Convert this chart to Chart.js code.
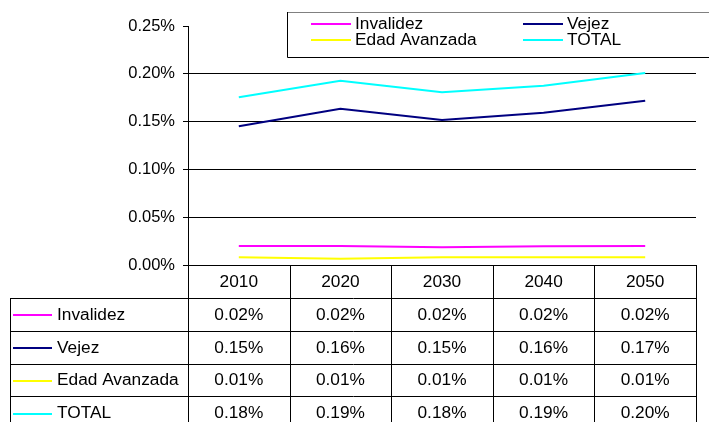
<!DOCTYPE html>
<html>
<head>
<meta charset="utf-8">
<script src="https://cdn.jsdelivr.net/npm/chart.js@4/dist/chart.umd.min.js"></script>
<style>
html,body{margin:0;padding:0;background:#fff;}
#wrap{width:709px;height:422px;position:relative;}
</style>
</head>
<body>
<div id="wrap"><canvas id="c" width="709" height="422"></canvas></div>
<script>
const categories = ['2010', '2020', '2030', '2040', '2050'];
const invalidez = [0.000200, 0.000198, 0.000186, 0.000195, 0.000200];
const vejez = [0.001452, 0.001634, 0.001516, 0.001592, 0.001718];
const edadAvanzada = [0.000080, 0.000066, 0.000080, 0.000080, 0.000080];
const total = [0.001754, 0.001926, 0.001807, 0.001876, 0.002009];
const seriesNames = ['Invalidez', 'Vejez', 'Edad Avanzada', 'TOTAL'];
const seriesColors = ['#FF00FF', '#000080', '#FFFF00', '#00FFFF'];
const seriesData = [invalidez, vejez, edadAvanzada, total];

const FONT = '"Liberation Sans", Arial, sans-serif';
const fmtPct = v => (v * 100).toFixed(2) + '%';
const crisp = v => Math.round(v) + 0.5;
const SX = 1.08;

function drawText(ctx, text, x, y, align) {
  ctx.save();
  ctx.translate(x, y);
  ctx.scale(SX, 1);
  ctx.textAlign = align;
  ctx.fillText(text, 0, 0);
  ctx.restore();
}

const tablePlugin = {
  id: 'dataTable',
  afterDraw(chart) {
    const ctx = chart.ctx;
    const area = chart.chartArea;
    const xs = chart.scales.x;
    const n = categories.length;
    const colW = (area.right - area.left) / n;
    const top = area.bottom;
    const headerH = 33;
    const rowH = 32.8;
    const labelLeft = 10;
    ctx.save();
    ctx.strokeStyle = '#000';
    ctx.lineWidth = 1;
    const bottomY = top + headerH + rowH * seriesNames.length + 5;
    for (let i = 0; i <= n; i++) {
      const x = crisp(area.left + colW * i);
      ctx.beginPath();
      ctx.moveTo(x, top);
      ctx.lineTo(x, bottomY);
      ctx.stroke();
    }
    ctx.beginPath();
    ctx.moveTo(crisp(labelLeft), top + headerH);
    ctx.lineTo(crisp(labelLeft), bottomY);
    ctx.stroke();
    for (let r = 0; r <= seriesNames.length; r++) {
      const y = crisp(top + headerH + rowH * r);
      ctx.beginPath();
      ctx.moveTo(labelLeft, y);
      ctx.lineTo(area.right + 1, y);
      ctx.stroke();
    }
    ctx.fillStyle = '#000';
    ctx.font = '16px ' + FONT;
    ctx.textBaseline = 'middle';
    categories.forEach((c, i) => {
      drawText(ctx, c, xs.getPixelForValue(i), top + headerH / 2 + 1, 'center');
    });
    seriesNames.forEach((name, r) => {
      const cy = top + headerH + rowH * r + rowH / 2 + 1;
      ctx.strokeStyle = seriesColors[r];
      ctx.lineWidth = 2;
      ctx.beginPath();
      ctx.moveTo(13, Math.round(cy));
      ctx.lineTo(52, Math.round(cy));
      ctx.stroke();
      ctx.fillStyle = '#000';
      drawText(ctx, name, 57, cy, 'left');
      seriesData[r].forEach((v, i) => {
        drawText(ctx, fmtPct(v), xs.getPixelForValue(i), cy, 'center');
      });
    });
    ctx.restore();
  }
};

const legendPlugin = {
  id: 'boxLegend',
  afterDraw(chart) {
    const ctx = chart.ctx;
    ctx.save();
    const L = 287, T = 12, B = 57, R = 720;
    ctx.lineWidth = 1;
    ctx.strokeStyle = '#808080';
    ctx.beginPath(); ctx.moveTo(L, T + 0.5); ctx.lineTo(R, T + 0.5); ctx.stroke();
    ctx.strokeStyle = '#000';
    ctx.beginPath(); ctx.moveTo(L + 0.5, T); ctx.lineTo(L + 0.5, B + 0.5); ctx.lineTo(R, B + 0.5); ctx.stroke();
    const items = [
      {i: 0, x: 311, y: 24},
      {i: 1, x: 523, y: 24},
      {i: 2, x: 311, y: 40},
      {i: 3, x: 523, y: 40}
    ];
    ctx.font = '16px ' + FONT;
    ctx.textBaseline = 'middle';
    items.forEach(it => {
      ctx.strokeStyle = seriesColors[it.i];
      ctx.lineWidth = 2;
      ctx.beginPath();
      ctx.moveTo(it.x, it.y);
      ctx.lineTo(it.x + 40, it.y);
      ctx.stroke();
      ctx.fillStyle = '#000';
      drawText(ctx, seriesNames[it.i], it.x + 44, it.y + 1, 'left');
    });
    ctx.restore();
  }
};

new Chart(document.getElementById('c'), {
  type: 'line',
  data: {
    labels: categories,
    datasets: seriesNames.map((name, i) => ({
      label: name,
      data: seriesData[i],
      borderColor: seriesColors[i],
      backgroundColor: seriesColors[i],
      borderWidth: 2,
      pointRadius: 0,
      tension: 0,
      fill: false
    }))
  },
  options: {
    responsive: false,
    animation: false,
    devicePixelRatio: 1,
    layout: { padding: { left: 0, right: 13, top: 26, bottom: 157 } },
    plugins: { legend: { display: false }, tooltip: { enabled: false } },
    scales: {
      x: {
        display: false,
        offset: true
      },
      y: {
        min: 0,
        max: 0.0025,
        afterFit(scale) { scale.width = 188; },
        ticks: {
          stepSize: 0.0005,
          color: '#000',
          font: { family: FONT, size: 16.5 },
          padding: 8,
          callback: v => fmtPct(v)
        },
        grid: {
          color: ctx => (ctx.tick && Math.abs(ctx.tick.value - 0.0025) < 1e-9) ? 'rgba(0,0,0,0)' : '#000',
          tickColor: '#000',
          tickLength: 5,
          lineWidth: 1
        },
        border: { display: true, color: '#000', width: 1 }
      }
    }
  },
  plugins: [tablePlugin, legendPlugin]
});
</script>
</body>
</html>
